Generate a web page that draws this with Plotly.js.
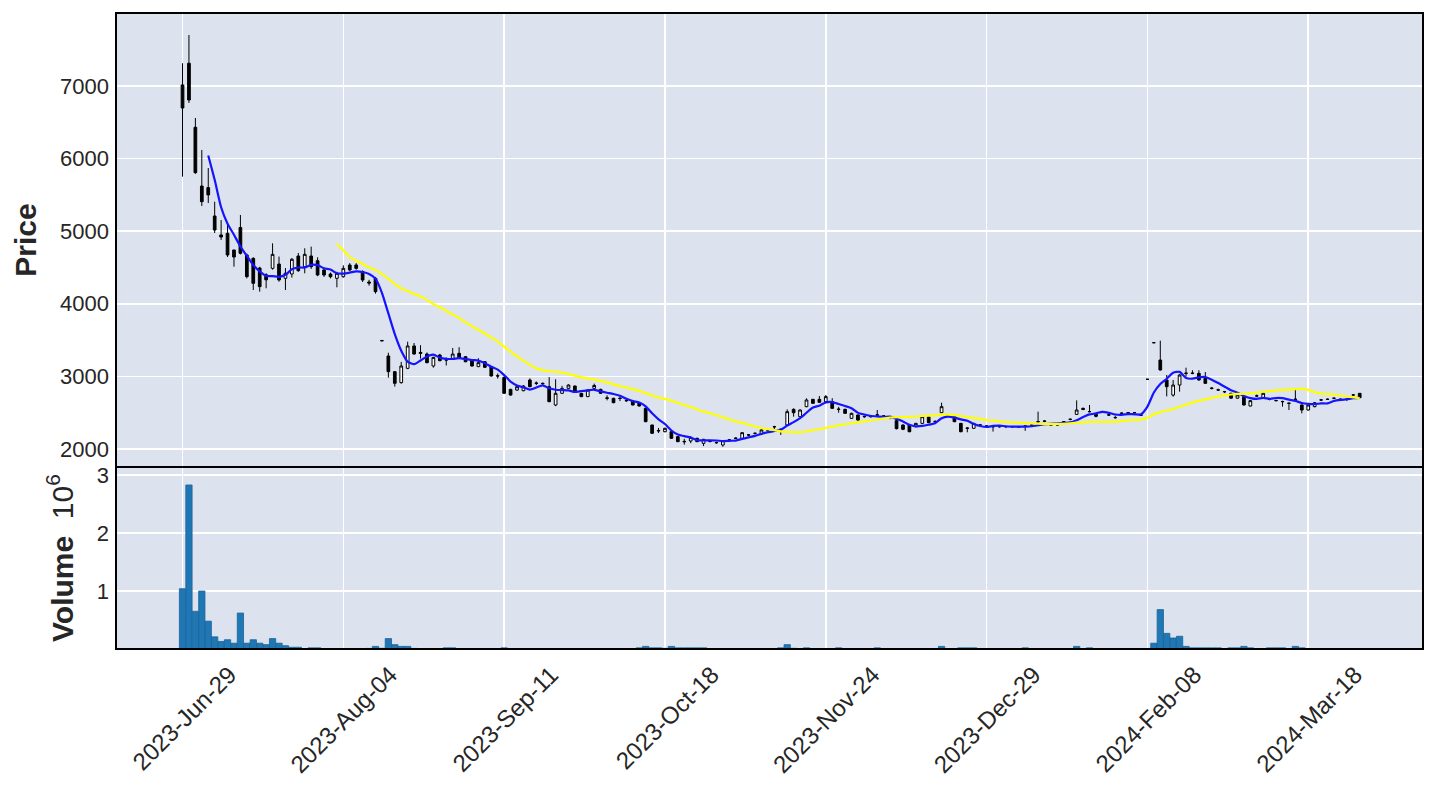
<!DOCTYPE html>
<html><head><meta charset="utf-8">
<script src="https://cdn.plot.ly/plotly-3.0.1.min.js"></script>
<style>html,body{margin:0;padding:0;background:#fff}#chart{width:1429px;height:786px}</style>
</head><body><div id="chart"></div>
<script>
const opens = [7014,7313,6431,5622,5600,5209,4948,4971,4741,5050,
4672,4626,4492,4400,4488,4547,4351,4410,4658,4511,
4658,4593,4466,4410,4351,4373,4534,4534,4443,4300,
4351,3495,3281,3065,2914,3111,3419,3330,3308,3143,
3294,3230,3234,3318,3271,3211,3134,3202,3134,3010,
2985,2821,2812,2803,2950,2910,2905,2858,2606,2767,
2835,2867,2767,2721,2835,2821,2705,2698,2700,2670,
2661,2638,2560,2330,2255,2238,2238,2170,2105,2110,
2147,2078,2110,2090,2055,2125,2150,2147,2195,2215,
2206,2260,2305,2272,2330,2546,2445,2583,2684,2684,
2652,2652,2550,2546,2422,2468,2450,2447,2470,2455,
2425,2390,2330,2330,2307,2353,2445,2380,2500,2470,
2445,2353,2290,2285,2332,2316,2308,2308,2310,2307,
2307,2316,2330,2378,2380,2332,2330,2375,2410,2477,
2560,2515,2480,2515,2470,2433,2495,2495,2500,2468,
2960,3464,3225,2950,2743,2881,3045,3045,3042,2973,
2840,2815,2790,2767,2700,2721,2592,2732,2698,2686,
2668,2655,2632,2686,2606,2537,2583,2676,2685,2700,
2686,2686,2745,2767];
const highs = [7313,7702,6559,6118,5870,5406,5154,5085,4741,5223,
4690,4640,4510,4420,4833,4650,4492,4630,4700,4764,
4787,4640,4490,4430,4440,4530,4560,4560,4460,4330,
4370,3500,3326,3070,3200,3478,3460,3430,3330,3270,
3310,3260,3390,3402,3280,3220,3250,3210,3140,3040,
3000,2830,2870,2880,2973,2930,2915,2990,2960,2870,
2890,2875,2775,2820,2900,2830,2740,2705,2720,2680,
2670,2645,2570,2335,2290,2295,2245,2175,2140,2175,
2155,2140,2125,2100,2120,2135,2160,2230,2205,2225,
2270,2270,2320,2280,2546,2560,2545,2698,2690,2730,
2744,2700,2580,2555,2500,2475,2460,2455,2537,2465,
2440,2400,2340,2335,2360,2455,2460,2395,2638,2480,
2450,2360,2300,2360,2340,2325,2315,2320,2320,2318,
2315,2325,2340,2514,2395,2345,2340,2385,2420,2670,
2570,2606,2490,2525,2480,2460,2505,2510,2510,2480,
2965,3470,3492,3020,2950,3030,3120,3085,3085,3060,
2850,2830,2800,2775,2760,2730,2675,2750,2775,2695,
2680,2665,2640,2812,2615,2615,2645,2685,2695,2710,
2695,2695,2755,2770];
const lows = [5751,6766,5790,5347,5388,4975,4879,4644,4511,4680,
4350,4190,4167,4213,4470,4305,4190,4360,4440,4420,
4480,4380,4370,4350,4227,4360,4450,4470,4300,4250,
4140,3485,2983,2860,2900,3100,3300,3245,3180,3120,
3210,3150,3230,3240,3195,3135,3130,3115,3000,2970,
2760,2735,2800,2795,2850,2880,2885,2645,2590,2760,
2830,2780,2715,2715,2830,2760,2670,2630,2660,2650,
2600,2585,2370,2210,2220,2230,2140,2095,2060,2080,
2095,2040,2090,2070,2030,2110,2140,2140,2180,2200,
2200,2250,2260,2193,2325,2445,2440,2575,2620,2635,
2645,2550,2500,2485,2415,2390,2430,2435,2455,2440,
2410,2270,2260,2230,2300,2345,2355,2360,2495,2455,
2370,2230,2230,2280,2320,2305,2240,2295,2290,2295,
2292,2250,2320,2350,2370,2320,2320,2365,2395,2470,
2535,2505,2436,2500,2455,2420,2480,2485,2490,2455,
2955,3458,3080,2725,2720,2790,2995,3030,2945,2900,
2820,2800,2770,2690,2695,2600,2585,2715,2690,2670,
2655,2583,2537,2675,2491,2530,2575,2665,2675,2685,
2660,2660,2735,2700];
const closes = [6697,6807,5806,5406,5500,5016,4920,4672,4644,4695,
4374,4282,4236,4330,4681,4328,4420,4613,4456,4681,
4511,4397,4397,4373,4420,4488,4466,4488,4328,4285,
4167,3490,3065,2905,3143,3419,3308,3318,3189,3262,
3216,3225,3308,3248,3202,3143,3189,3125,3005,3005,
2767,2743,2858,2867,2858,2904,2900,2652,2767,2835,
2881,2789,2721,2812,2875,2767,2698,2638,2695,2665,
2606,2592,2376,2216,2250,2285,2147,2101,2100,2160,
2101,2133,2105,2087,2115,2124,2147,2225,2193,2216,
2262,2262,2307,2270,2514,2500,2537,2675,2629,2643,
2721,2560,2546,2491,2491,2399,2445,2445,2468,2454,
2422,2280,2271,2238,2353,2445,2362,2376,2583,2466,
2376,2238,2285,2353,2330,2316,2307,2307,2307,2308,
2305,2316,2330,2376,2385,2330,2332,2376,2408,2537,
2545,2514,2450,2514,2468,2431,2491,2500,2500,2466,
2960,3464,3088,2858,2881,3019,3042,3042,2950,2904,
2835,2812,2789,2700,2745,2606,2666,2730,2767,2684,
2666,2652,2629,2684,2537,2606,2638,2675,2684,2698,
2684,2684,2744,2707];
const volumes = [1.04e6,2.83e6,0.65e6,1.0e6,0.48e6,0.21e6,0.13e6,0.16e6,0.10e6,0.62e6,
0.10e6,0.16e6,0.10e6,0.075e6,0.18e6,0.10e6,0.057e6,0.03e6,0.03e6,0.008e6,
0.02e6,0.02e6,0.008e6,0.006e6,0.006e6,0.005e6,0.006e6,0.005e6,0.007e6,0.01e6,
0.045e6,0.012e6,0.18e6,0.075e6,0.045e6,0.045e6,0.01e6,0.008e6,0.006e6,0.007e6,
0.008e6,0.02e6,0.02e6,0.006e6,0.005e6,0.005e6,0.006e6,0.005e6,0.007e6,0.008e6,
0.02e6,0.008e6,0.005e6,0.004e6,0.005e6,0.004e6,0.004e6,0.007e6,0.006e6,0.004e6,
0.004e6,0.004e6,0.004e6,0.004e6,0.004e6,0.004e6,0.004e6,0.004e6,0.004e6,0.005e6,
0.006e6,0.02e6,0.045e6,0.02e6,0.02e6,0.012e6,0.045e6,0.02e6,0.02e6,0.02e6,
0.02e6,0.02e6,0.006e6,0.005e6,0.005e6,0.004e6,0.004e6,0.005e6,0.004e6,0.004e6,
0.005e6,0.005e6,0.008e6,0.02e6,0.075e6,0.012e6,0.008e6,0.02e6,0.008e6,0.006e6,
0.007e6,0.008e6,0.02e6,0.006e6,0.005e6,0.006e6,0.004e6,0.005e6,0.02e6,0.005e6,
0.004e6,0.008e6,0.006e6,0.006e6,0.005e6,0.006e6,0.005e6,0.006e6,0.045e6,0.008e6,
0.008e6,0.02e6,0.02e6,0.02e6,0.006e6,0.004e6,0.005e6,0.004e6,0.004e6,0.004e6,
0.005e6,0.02e6,0.005e6,0.008e6,0.006e6,0.004e6,0.004e6,0.005e6,0.006e6,0.045e6,
0.008e6,0.02e6,0.006e6,0.005e6,0.004e6,0.005e6,0.004e6,0.004e6,0.004e6,0.005e6,
0.006e6,0.10e6,0.68e6,0.27e6,0.19e6,0.22e6,0.045e6,0.02e6,0.02e6,0.02e6,
0.02e6,0.02e6,0.008e6,0.02e6,0.02e6,0.045e6,0.02e6,0.008e6,0.006e6,0.02e6,
0.02e6,0.02e6,0.008e6,0.045e6,0.02e6,0.006e6,0.005e6,0.006e6,0.004e6,0.004e6,
0.005e6,0.004e6,0.005e6,0.006e6];
const tickIndex = [0,25,50,75,100,125,150,175];
const tickLabels = ['2023-Jun-29','2023-Aug-04','2023-Sep-11','2023-Oct-18','2023-Nov-24','2023-Dec-29','2024-Feb-08','2024-Mar-18'];
const priceTicks = [2000,3000,4000,5000,6000,7000];
const volTicks = [1e6,2e6,3e6];
const volTickText = ['1','2','3'];
const mavWindows = [5,25];
const mavColors = ['#1414ff','#ffff00'];

const idx = closes.map((_, i) => i);
function sma(arr, w){
  return arr.map((_, i) => {
    if (i < w - 1) return null;
    let s = 0; for (let k = i - w + 1; k <= i; k++) s += arr[k];
    return s / w;
  });
}

const traces = [];
traces.push({
  type:'candlestick', x: idx, open: opens, high: highs, low: lows, close: closes,
  xaxis:'x', yaxis:'y',
  increasing:{line:{color:'#000000', width:1}, fillcolor:'#ffffff'},
  decreasing:{line:{color:'#000000', width:1}, fillcolor:'#000000'},
  whiskerwidth:0, hoverinfo:'skip'
});
mavWindows.forEach((w, j) => {
  traces.push({type:'scatter', mode:'lines', x: idx, y: sma(closes, w), xaxis:'x', yaxis:'y',
    line:{color: mavColors[j], width:2.2, shape:'spline', smoothing:0.6}, hoverinfo:'skip'});
});
traces.push({type:'bar', x: idx, y: volumes, xaxis:'x', yaxis:'y2',
  marker:{color:'#1f77b4', line:{color:'#1a6398', width:0.8}}, hoverinfo:'skip'});

const split = (649-467)/636;
const layout = {
  width:1429, height:786,
  margin:{l:116, r:6, t:13, b:137, pad:0},
  paper_bgcolor:'#ffffff', plot_bgcolor:'#dce3ef',
  showlegend:false,
  font:{family:'Liberation Sans, Arial, sans-serif', size:22, color:'#262626'},
  boxgap:0.4, bargap:0.02,
  xaxis:{range:[-10.34,192.84], tickmode:'array', tickvals:tickIndex, ticktext:tickLabels,
    tickangle:-45, ticklabelshift:47, ticklabelstandoff:6, tickfont:{size:24},
    showgrid:true, gridcolor:'#ffffff', gridwidth:1.5,
    zeroline:false, showline:false, ticks:'', rangeslider:{visible:false}, anchor:'y2', fixedrange:true},
  yaxis:{domain:[split,1], range:[1752,8005], tickmode:'array', tickvals:priceTicks,
    gridcolor:'#ffffff', gridwidth:1.5, zeroline:false, showline:false, ticks:'', ticklabelstandoff:6,
    title:{text:'<b>Price</b>', font:{size:30, color:'#262626'}, standoff:14}, fixedrange:true},
  yaxis2:{domain:[0,split], range:[0,3.14e6], tickmode:'array', tickvals:volTicks, ticktext:volTickText,
    gridcolor:'#ffffff', gridwidth:1.5, zeroline:false, showline:false, ticks:'', anchor:'x', ticklabelstandoff:6,
    title:{text:'<b>Volume</b>  10<sup>6</sup>', font:{size:30, color:'#262626'}, standoff:14}, fixedrange:true},
  shapes:[
    {type:'rect', xref:'paper', yref:'paper', x0:0, x1:1, y0:split, y1:1, line:{color:'#000', width:2}},
    {type:'rect', xref:'paper', yref:'paper', x0:0, x1:1, y0:0, y1:split, line:{color:'#000', width:2}}
  ]
};
Plotly.newPlot('chart', traces, layout, {displayModeBar:false, staticPlot:true});
</script></body></html>
